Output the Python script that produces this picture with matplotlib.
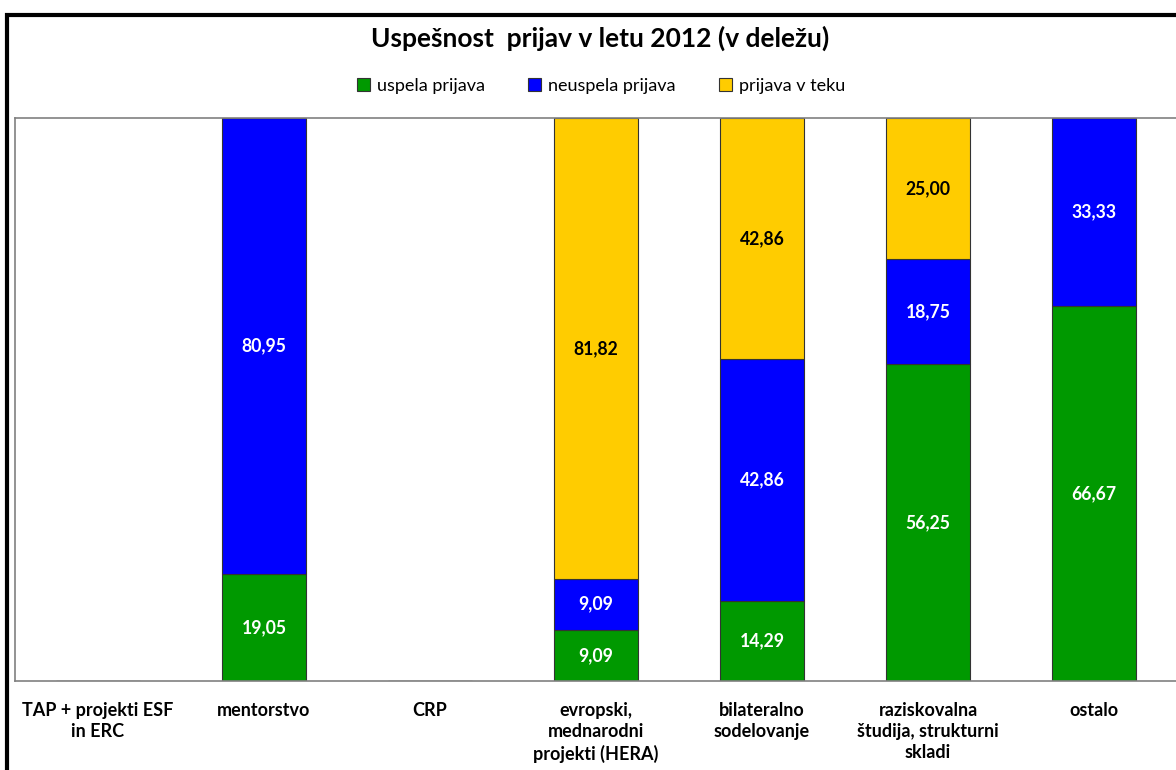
import numpy as np
import matplotlib.pyplot as plt
from matplotlib.patches import Rectangle

# data (shares in %)
categories = ['TAP + projekti ESF\nin ERC', 'mentorstvo', 'CRP',
              'evropski,\nmednarodni\nprojekti (HERA)', 'bilateralno\nsodelovanje',
              'raziskovalna\nštudija, strukturni\nskladi', 'ostalo']
uspela = [0, 19.05, 0, 9.09, 14.29, 56.25, 66.67]
neuspela = [0, 80.95, 0, 9.09, 42.86, 18.75, 33.33]
v_teku = [0, 0, 0, 81.82, 42.86, 25.00, 0]
series_names = ['uspela prijava', 'neuspela prijava', 'prijava v teku']

colors = ['#009900', '#0000FF', '#FFCC00']
text_colors = ['white', 'white', 'black']

plt.rcParams['font.family'] = ['Lato', 'DejaVu Sans']

fig = plt.figure(figsize=(11.76, 7.7), dpi=100)
ax = fig.add_axes([15/1176, 1 - 681/770, 1162/1176, 563/770])

x = np.arange(len(categories))
bottom = np.zeros(len(categories))
for vals, name, col, tcol in zip([uspela, neuspela, v_teku], series_names, colors, text_colors):
    vals = np.array(vals)
    bars = ax.bar(x, vals, width=0.51, bottom=bottom, color=col, edgecolor='#333333',
                  linewidth=0.8, label=name)
    for xi, v, b in zip(x, vals, bottom):
        if v > 0:
            ax.text(xi, b + v / 2, f'{v:.2f}'.replace('.', ','), ha='center', va='center',
                    color=tcol, fontsize=12.7, fontweight='bold')
    bottom += vals

ax.set_xlim(-0.5, len(categories) - 0.5)
ax.set_ylim(0, 100)
ax.set_yticks([])
ax.set_xticks(x)
ax.set_xticklabels(categories, fontsize=13, fontweight='bold', linespacing=1.3, va='top')
ax.tick_params(axis='x', length=0, pad=15)
for s in ax.spines.values():
    s.set_color('#808080')
    s.set_linewidth(1.2)

fig.text(600/1176, 1 - 38/770, 'Uspešnost  prijav v letu 2012 (v deležu)', ha='center', va='center',
         fontsize=19, fontweight='bold')

leg = fig.legend(loc='center', bbox_to_anchor=(601/1176, 1 - 86/770), ncol=3, frameon=False,
                 fontsize=13, handlelength=0.7, handleheight=0.7, columnspacing=2.4,
                 handletextpad=0.4)

# outer chart border (clipped at right and bottom)
fig.patches.append(Rectangle((7/1176, -0.05), 1.1, 1.05 - 15/770, transform=fig.transFigure,
                             fill=False, edgecolor='black', linewidth=3, figure=fig))

fig.savefig('out.png', dpi=100)
